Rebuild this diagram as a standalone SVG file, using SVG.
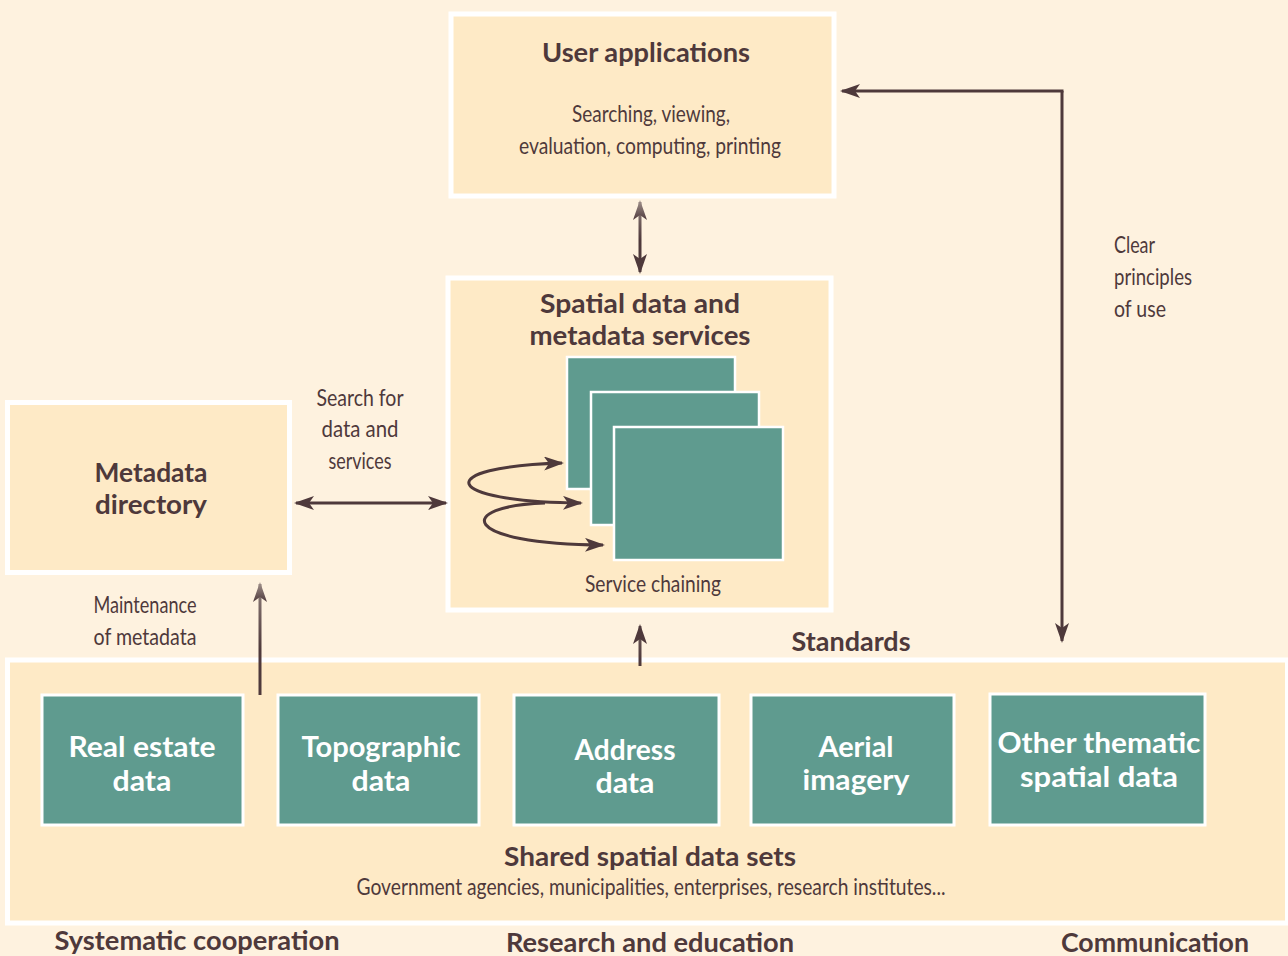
<svg xmlns="http://www.w3.org/2000/svg" width="1288" height="956" viewBox="0 0 1288 956">
  <style>
    .panel { fill: #FEEAC6; stroke: #FFFFFF; stroke-width: 5; }
    .dataset { fill: #5F9B8F; stroke: #FFFFFF; stroke-width: 3; }
    .service { fill: #5F9B8F; stroke: #FFFFFF; stroke-width: 2.5; }
    .title { font-family: Lato, "Open Sans", sans-serif; font-weight: 700; font-size: 27px; fill: #4E393B; text-anchor: middle; }
    .label { font-family: Lato, "Open Sans", sans-serif; font-weight: 400; font-size: 23px; fill: #4E393B; }
    .mid { text-anchor: middle; }
    .white { font-family: Lato, "Open Sans", sans-serif; font-weight: 700; font-size: 28px; fill: #FFFFFF; text-anchor: middle; }
    .link { fill: none; stroke: #4E393B; stroke-width: 3; }
  </style>
  <defs>
    <linearGradient id="tipFade" x1="0" y1="0" x2="1" y2="0">
      <stop offset="0" stop-color="#4E393B"/>
      <stop offset="1" stop-color="#A59690"/>
    </linearGradient>
    <linearGradient id="fadeTop1" gradientUnits="userSpaceOnUse" x1="0" y1="205" x2="0" y2="240">
      <stop offset="0" stop-color="#8E7E7A"/>
      <stop offset="1" stop-color="#4E393B"/>
    </linearGradient>
    <linearGradient id="fadeTop2" gradientUnits="userSpaceOnUse" x1="0" y1="585" x2="0" y2="650">
      <stop offset="0" stop-color="#8E7E7A"/>
      <stop offset="1" stop-color="#4E393B"/>
    </linearGradient>
    <linearGradient id="fadeTop3" gradientUnits="userSpaceOnUse" x1="0" y1="628" x2="0" y2="660">
      <stop offset="0" stop-color="#6E5C5A"/>
      <stop offset="1" stop-color="#4E393B"/>
    </linearGradient>
    <marker id="head" markerUnits="userSpaceOnUse" viewBox="0 0 20 14" refX="18" refY="7" markerWidth="20" markerHeight="14" orient="auto-start-reverse">
      <path d="M0,0 L20,7 L0,14 L5,7 Z" fill="#4E393B"/>
    </marker>
    <marker id="headFade" markerUnits="userSpaceOnUse" viewBox="0 0 20 14" refX="18" refY="7" markerWidth="20" markerHeight="14" orient="auto-start-reverse">
      <path d="M0,0 L20,7 L0,14 L5,7 Z" fill="url(#tipFade)"/>
    </marker>
  </defs>

  <!-- page background -->
  <rect x="0" y="0" width="1288" height="956" fill="#FEF2DF"/>

  <!-- shared data sets panel -->
  <g id="shared-data-sets">
    <rect class="panel" x="7.5" y="660" width="1280" height="263"/>
    <text class="title" x="650" y="866" textLength="292" lengthAdjust="spacingAndGlyphs" font-size="25">Shared spatial data sets</text>
    <text class="label mid" x="651" y="895" textLength="589" lengthAdjust="spacingAndGlyphs">Government agencies, municipalities, enterprises, research institutes...</text>
  </g>

  <g id="real-estate">
    <rect class="dataset" x="42" y="695" width="201" height="130"/>
    <text class="white" x="142" y="757" textLength="147" lengthAdjust="spacingAndGlyphs">Real estate</text>
    <text class="white" x="142" y="791" textLength="59" lengthAdjust="spacingAndGlyphs">data</text>
  </g>
  <g id="topographic">
    <rect class="dataset" x="278" y="695" width="201" height="130"/>
    <text class="white" x="381" y="757" textLength="159" lengthAdjust="spacingAndGlyphs">Topographic</text>
    <text class="white" x="381" y="791" textLength="59" lengthAdjust="spacingAndGlyphs">data</text>
  </g>
  <g id="address">
    <rect class="dataset" x="514" y="695" width="205" height="130"/>
    <text class="white" x="625" y="760" textLength="101" lengthAdjust="spacingAndGlyphs">Address</text>
    <text class="white" x="625" y="793" textLength="59" lengthAdjust="spacingAndGlyphs">data</text>
  </g>
  <g id="aerial">
    <rect class="dataset" x="751" y="695" width="203" height="130"/>
    <text class="white" x="856" y="757" textLength="75" lengthAdjust="spacingAndGlyphs" font-size="27">Aerial</text>
    <text class="white" x="856" y="790" textLength="107" lengthAdjust="spacingAndGlyphs" font-size="27">imagery</text>
  </g>
  <g id="other-thematic">
    <rect class="dataset" x="990" y="694" width="215" height="131"/>
    <text class="white" x="1099" y="753" textLength="203" lengthAdjust="spacingAndGlyphs">Other thematic</text>
    <text class="white" x="1099" y="787" textLength="158" lengthAdjust="spacingAndGlyphs">spatial data</text>
  </g>

  <!-- user applications -->
  <g id="user-applications">
    <rect class="panel" x="451" y="14" width="383" height="182"/>
    <text class="title" x="646" y="62" textLength="208" lengthAdjust="spacingAndGlyphs">User applications</text>
    <text class="label mid" x="651" y="122" textLength="158" lengthAdjust="spacingAndGlyphs">Searching, viewing,</text>
    <text class="label mid" x="650" y="154" textLength="262" lengthAdjust="spacingAndGlyphs">evaluation, computing, printing</text>
  </g>

  <!-- spatial data and metadata services -->
  <g id="services">
    <rect class="panel" x="448" y="278" width="383" height="332"/>
    <text class="title" x="640" y="313" textLength="200" lengthAdjust="spacingAndGlyphs">Spatial data and</text>
    <text class="title" x="640" y="345" textLength="221" lengthAdjust="spacingAndGlyphs">metadata services</text>
    <rect class="service" x="567" y="357" width="168" height="132"/>
    <rect class="service" x="591" y="392" width="168" height="133"/>
    <rect class="service" x="614" y="427" width="169" height="133"/>
    <text class="label mid" x="653" y="592" textLength="136" lengthAdjust="spacingAndGlyphs">Service chaining</text>
  </g>

  <!-- metadata directory -->
  <g id="metadata-directory">
    <rect class="panel" x="7.5" y="402.5" width="282" height="170"/>
    <text class="title" x="151" y="482" textLength="113" lengthAdjust="spacingAndGlyphs">Metadata</text>
    <text class="title" x="151" y="514" textLength="112" lengthAdjust="spacingAndGlyphs">directory</text>
  </g>

  <!-- free labels -->
  <g id="labels">
    <text class="label mid" x="360" y="406" textLength="87" lengthAdjust="spacingAndGlyphs">Search for</text>
    <text class="label mid" x="360" y="437" textLength="77" lengthAdjust="spacingAndGlyphs">data and</text>
    <text class="label mid" x="360" y="469" textLength="63" lengthAdjust="spacingAndGlyphs">services</text>
    <text class="label mid" x="145" y="613" textLength="103" lengthAdjust="spacingAndGlyphs">Maintenance</text>
    <text class="label mid" x="145" y="645" textLength="103" lengthAdjust="spacingAndGlyphs">of metadata</text>
    <text class="label" x="1114" y="253" textLength="41" lengthAdjust="spacingAndGlyphs">Clear</text>
    <text class="label" x="1114" y="285" textLength="78" lengthAdjust="spacingAndGlyphs">principles</text>
    <text class="label" x="1114" y="317" textLength="52" lengthAdjust="spacingAndGlyphs">of use</text>
    <text class="title" x="851" y="651" textLength="119" lengthAdjust="spacingAndGlyphs" font-size="25">Standards</text>
    <text class="title" x="197" y="950" textLength="285" lengthAdjust="spacingAndGlyphs" font-size="25">Systematic cooperation</text>
    <text class="title" x="650" y="952" textLength="288" lengthAdjust="spacingAndGlyphs" font-size="25">Research and education</text>
    <text class="title" x="1155" y="952" textLength="188" lengthAdjust="spacingAndGlyphs" font-size="25">Communication</text>
  </g>

  <!-- connectors -->
  <g id="connectors">
    <!-- applications <-> services -->
    <line x1="640" y1="202" x2="640" y2="272" stroke="url(#fadeTop1)" stroke-width="3" marker-start="url(#headFade)" marker-end="url(#head)"/>
    <!-- directory <-> services -->
    <line class="link" x1="296" y1="503" x2="446" y2="503" marker-start="url(#head)" marker-end="url(#head)"/>
    <!-- data sets -> directory (maintenance) -->
    <line x1="260" y1="695" x2="260" y2="584" stroke="url(#fadeTop2)" stroke-width="3" marker-end="url(#headFade)"/>
    <!-- data sets -> services -->
    <line x1="640" y1="666" x2="640" y2="626" stroke="url(#fadeTop3)" stroke-width="3" marker-end="url(#head)"/>
    <!-- clear principles of use -->
    <polyline class="link" points="1062,91 1062,641" marker-end="url(#head)"/>
    <line class="link" x1="1063.5" y1="91" x2="842" y2="91" marker-end="url(#head)"/>
    <!-- service chaining loops -->
    <path class="link" d="M562,463 C430,467 440,502 581,503" stroke-width="2.8" marker-start="url(#head)" marker-end="url(#head)"/>
    <path class="link" d="M545,503 C455,506 458,544 603,545" stroke-width="2.8" marker-end="url(#head)"/>
  </g>
</svg>
